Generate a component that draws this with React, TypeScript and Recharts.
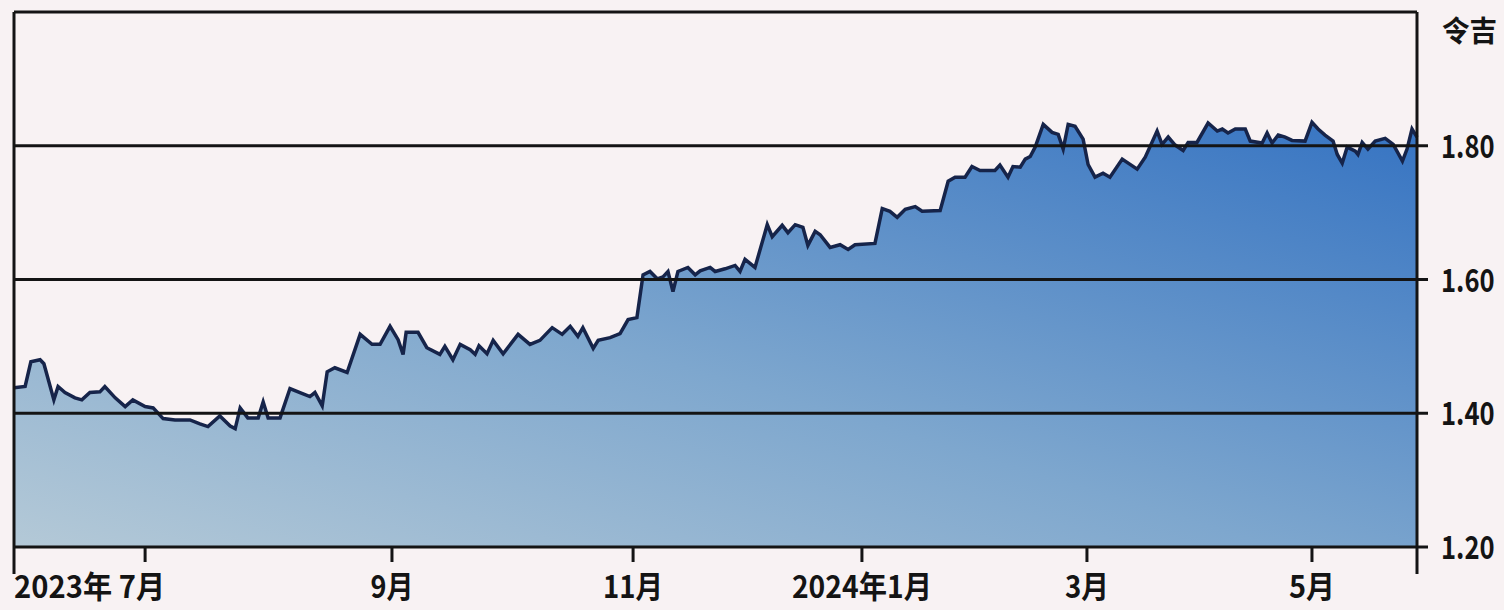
import React from 'react';
import { AreaChart, Area, XAxis, YAxis, ReferenceLine } from 'recharts';

// 令吉 exchange rate, May 2023 - May 2024 (x = days from start of the chart)
const days = [
  0, 2.9, 4.4, 6.8, 7.8, 9.1, 10.4, 11.5, 13.3, 15.9, 17.7, 19.8, 22.4, 23.7, 26.4, 29.0, 31.0, 34.2, 36.3, 38.9,
  42.0, 45.9, 48.5, 50.6, 53.7, 56.4, 57.7, 59.0, 61.0, 63.7, 65.0, 66.3, 69.4, 72.0, 74.6, 77.2, 78.5, 80.4, 81.7, 83.7,
  86.9, 90.3, 93.4, 95.5, 98.1, 100.2, 101.5, 102.3, 105.4, 107.7, 111.1, 112.4, 114.5, 116.4, 119.0, 120.3, 121.3, 123.4, 125.0, 127.6,
  131.5, 134.6, 137.2, 140.4, 143.0, 145.1, 147.1, 148.4, 151.1, 152.4, 155.5, 158.1, 160.2, 162.5, 164.1, 165.9, 167.8, 169.3, 170.6, 171.9,
  173.2, 175.8, 177.7, 179.0, 181.6, 182.9, 185.5, 188.1, 189.4, 190.7, 193.3, 196.5, 197.8, 200.4, 201.9, 203.8, 205.8, 207.1, 209.0, 210.3,
  212.9, 215.5, 217.6, 219.4, 224.6, 226.5, 228.5, 230.4, 232.5, 235.1, 236.9, 241.6, 243.7, 245.5, 248.1, 249.9, 252.0, 255.9, 257.2, 259.3,
  260.6, 262.5, 263.8, 265.1, 266.4, 268.5, 270.8, 272.4, 273.7, 275.0, 276.8, 278.9, 280.2, 282.0, 284.1, 285.9, 289.1, 293.0, 295.1, 298.2,
  299.5, 301.1, 302.9, 305.0, 306.3, 308.6, 311.5, 313.9, 315.2, 316.7, 318.6, 321.2, 322.5, 325.6, 326.9, 328.2, 329.8, 331.6, 333.4, 336.8,
  338.6, 340.2, 342.0, 344.1, 345.2, 346.5, 347.8, 349.9, 350.6, 351.7, 353.2, 355.1, 357.7, 359.8, 362.2, 363.4, 364.7, 366.0,
];

const rates = [
  1.438, 1.440, 1.477, 1.480, 1.474, 1.447, 1.420, 1.440, 1.431, 1.423, 1.420, 1.431, 1.432, 1.440, 1.423, 1.410, 1.420, 1.410, 1.408, 1.392,
  1.390, 1.390, 1.384, 1.380, 1.396, 1.381, 1.377, 1.408, 1.393, 1.393, 1.417, 1.393, 1.393, 1.437, 1.431, 1.425, 1.431, 1.411, 1.462, 1.468,
  1.461, 1.518, 1.503, 1.503, 1.530, 1.510, 1.488, 1.521, 1.521, 1.498, 1.488, 1.500, 1.480, 1.503, 1.495, 1.488, 1.501, 1.489, 1.509, 1.489,
  1.518, 1.503, 1.509, 1.528, 1.518, 1.530, 1.515, 1.528, 1.497, 1.509, 1.513, 1.519, 1.540, 1.543, 1.607, 1.612, 1.601, 1.604, 1.612, 1.582,
  1.612, 1.618, 1.607, 1.613, 1.618, 1.612, 1.616, 1.621, 1.612, 1.630, 1.618, 1.682, 1.664, 1.681, 1.670, 1.682, 1.678, 1.651, 1.672, 1.667,
  1.648, 1.652, 1.645, 1.652, 1.654, 1.706, 1.702, 1.693, 1.705, 1.709, 1.702, 1.703, 1.747, 1.753, 1.753, 1.769, 1.763, 1.763, 1.771, 1.753,
  1.769, 1.768, 1.780, 1.784, 1.798, 1.832, 1.820, 1.817, 1.795, 1.832, 1.829, 1.810, 1.772, 1.753, 1.759, 1.753, 1.780, 1.765, 1.783, 1.822,
  1.802, 1.813, 1.801, 1.793, 1.805, 1.805, 1.834, 1.822, 1.825, 1.819, 1.825, 1.825, 1.807, 1.804, 1.819, 1.804, 1.816, 1.813, 1.808, 1.807,
  1.835, 1.825, 1.816, 1.807, 1.787, 1.774, 1.798, 1.792, 1.787, 1.805, 1.795, 1.807, 1.811, 1.802, 1.777, 1.795, 1.825, 1.813,
];

const monthTicks = [0, 34.2, 98.6, 161.5, 221.2, 279.9, 338.6, 366];
const monthLabels = ['', '2023年 7月', '9月', '11月', '2024年1月', '3月', '5月', ''];
const monthLabelWidths = [0, 151, 43, 60, 140, 44, 46, 0];
const rateTicks = [1.2, 1.4, 1.6, 1.8];
const gridLevels = [1.4, 1.6, 1.8];
const unitLabel = '令吉';

const data = days.map((d, i) => ({ day: d, rate: rates[i] }));

const font = "'Liberation Sans Narrow', 'Arial Narrow', 'Noto Sans CJK SC', sans-serif";
const ink = '#141414';

const MonthTick = (props: any) => {
  const { x, y, payload } = props;
  const i = monthTicks.indexOf(payload.value);
  const edge = i === 0 || i === monthTicks.length - 1;
  const label = monthLabels[i];
  const first = i === 1;
  return (
    <g>
      <line x1={x} y1={y} x2={x} y2={y + (edge ? 27 : 15)} stroke={ink} strokeWidth={3} />
      {label ? (
        <text
          x={first ? x + 20 : x}
          y={y + 51}
          textAnchor={first ? 'end' : 'middle'}
          fontFamily={font}
          fontWeight="bold"
          fontSize={31}
          fill={ink}
          textLength={monthLabelWidths[i]}
          lengthAdjust="spacingAndGlyphs"
        >
          {label}
        </text>
      ) : null}
    </g>
  );
};

// condensed right-hand labels: squeezed horizontally so they fit the narrow margin
const RateTick = (props: any) => {
  const { x, y, payload } = props;
  return (
    <g>
      <line x1={x} y1={y} x2={x + 11} y2={y} stroke={ink} strokeWidth={3} />
      <text
        transform={`translate(${x + 24},${y + 12}) scale(0.8,1)`}
        fontFamily={font}
        fontWeight="bold"
        fontSize={32}
        fill={ink}
      >
        {payload.value.toFixed(2)}
      </text>
    </g>
  );
};

const UnitLabel = (props: any) => {
  const vb = props.viewBox || { x: 1417, y: 12 };
  return (
    <text
      transform={`translate(${vb.x + 25},${vb.y + 30}) scale(0.95,1)`}
      fontFamily="'Noto Sans CJK SC', sans-serif"
      fontWeight="bold"
      fontSize={29}
      fill={ink}
    >
      {unitLabel}
    </text>
  );
};

export default function App() {
  return (
    <div style={{ position: 'absolute', left: 0, top: 0, width: 1504, height: 610, background: '#f8f2f3' }}>
      <AreaChart width={1504} height={610} data={data} margin={{ top: 12, right: 0, left: 14, bottom: 0 }}>
        <defs>
          <linearGradient id="fillGrad" x1="0" y1="1" x2="1" y2="0">
            <stop offset="0%" stopColor="#b4c9d7" />
            <stop offset="45%" stopColor="#7ea7ce" />
            <stop offset="100%" stopColor="#3573c2" />
          </linearGradient>
        </defs>
        <XAxis
          dataKey="day"
          type="number"
          domain={[0, 366]}
          ticks={monthTicks}
          interval={0}
          tick={<MonthTick />}
          tickLine={false}
          tickSize={0}
          tickMargin={0}
          height={63}
          axisLine={{ stroke: ink, strokeWidth: 3 }}
        />
        <YAxis
          orientation="right"
          type="number"
          domain={[1.2, 2.0]}
          ticks={rateTicks}
          interval={0}
          tick={<RateTick />}
          tickLine={false}
          tickSize={0}
          tickMargin={0}
          width={87}
          axisLine={{ stroke: ink, strokeWidth: 3 }}
          label={{ content: <UnitLabel /> }}
        />
        <Area
          type="linear"
          dataKey="rate"
          stroke="#16244a"
          strokeWidth={3.5}
          fill="url(#fillGrad)"
          fillOpacity={1}
          isAnimationActive={false}
        />
        {gridLevels.map((v) => (
          <ReferenceLine key={v} y={v} stroke={ink} strokeWidth={3} />
        ))}
        <ReferenceLine y={2.0} stroke={ink} strokeWidth={3} />
        <ReferenceLine x={0} stroke={ink} strokeWidth={3} />
      </AreaChart>
    </div>
  );
}
